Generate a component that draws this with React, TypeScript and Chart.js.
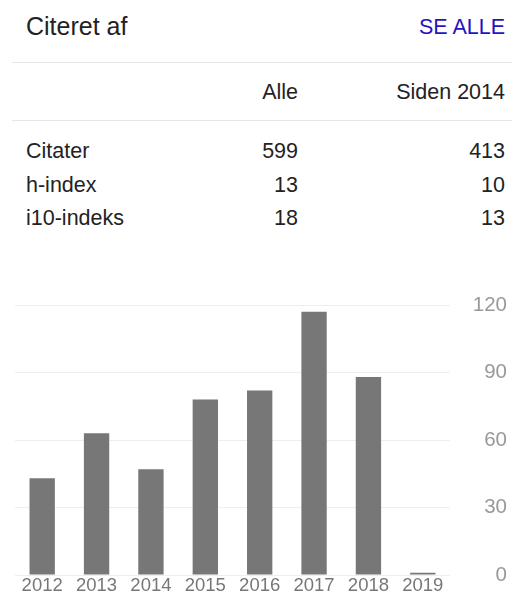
import React, { useEffect, useRef } from "react";
import { Chart, registerables } from "chart.js";

Chart.register(...registerables);

const years = ["2012", "2013", "2014", "2015", "2016", "2017", "2018", "2019"];
const citations = [43, 63, 47, 78, 82, 117, 88, 1];
const yTickValues = [0, 30, 60, 90, 120];
const metricLabels = ["Citater", "h-index", "i10-indeks"];
const allValues = ["599", "13", "18"];
const sinceValues = ["413", "10", "13"];
const headerTitle = "Citeret af";
const headerLink = "SE ALLE";
const colAll = "Alle";
const colSince = "Siden 2014";

const FONT = '"Liberation Sans", Arial, sans-serif';

function Txt(props: { text: string; size: number; baseline: number; left?: number; right?: number; color?: string }) {
  const { text, size, baseline, left, right, color } = props;
  const top = baseline - 0.8465 * size;
  const style: React.CSSProperties = {
    position: "absolute",
    top,
    fontSize: size,
    lineHeight: `${size}px`,
    fontFamily: FONT,
    color: color || "#222",
    whiteSpace: "nowrap",
  };
  if (left !== undefined) style.left = left;
  if (right !== undefined) {
    style.right = 512 - right;
    style.textAlign = "right";
  }
  return <div style={style}>{text}</div>;
}

export default function App() {
  const canvasRef = useRef<HTMLCanvasElement>(null);

  useEffect(() => {
    const ctx = canvasRef.current;
    if (!ctx) return;
    const chart = new Chart(ctx, {
      type: "bar",
      data: {
        labels: years,
        datasets: [
          {
            data: citations,
            backgroundColor: "#777777",
            borderWidth: 0,
            categoryPercentage: 1,
            barPercentage: 0.466,
          },
        ],
      },
      options: {
        responsive: false,
        animation: false,
        devicePixelRatio: 1,
        layout: { padding: { left: 15, top: 15, right: 5, bottom: 0 } },
        plugins: { legend: { display: false }, tooltip: { enabled: false } },
        scales: {
          x: {
            grid: { display: false, drawTicks: false },
            border: { display: false },
            ticks: {
              color: "#777777",
              font: { family: FONT, size: 18.5 },
              padding: 0,
              maxRotation: 0,
              autoSkip: false,
            },
            afterFit: (scale: any) => {
              scale.height = 20;
              scale.paddingLeft = 0;
              scale.paddingRight = 0;
              scale.paddingTop = 0;
              scale.paddingBottom = 0;
            },
          },
          y: {
            position: "right",
            min: 0,
            max: 120,
            afterBuildTicks: (scale: any) => {
              scale.ticks = yTickValues.map((v) => ({ value: v }));
            },
            grid: { color: "#eeeeee", drawTicks: false, lineWidth: 1 },
            border: { display: false },
            ticks: {
              color: "#999999",
              font: { family: FONT, size: 20.5 },
              padding: 18,
              crossAlign: "far",
            },
            afterFit: (scale: any) => {
              scale.width = 57;
              scale.paddingTop = 0;
              scale.paddingBottom = 0;
              scale.paddingLeft = 0;
              scale.paddingRight = 0;
            },
          },
        },
      },
    } as any);
    return () => chart.destroy();
  }, []);

  const rowBaselines = [159.3, 192.7, 226];

  return (
    <div style={{ position: "absolute", left: 0, top: 0, width: 512, height: 595, background: "#fff", overflow: "hidden" }}>
      <Txt text={headerTitle} size={25} baseline={35} left={26} />
      <Txt text={headerLink} size={21.5} baseline={35} right={505} color="#2414c0" />
      <div style={{ position: "absolute", left: 12, top: 62, width: 500, height: 1, background: "#e6e6e6" }} />
      <Txt text={colAll} size={21.5} baseline={100} right={298} />
      <Txt text={colSince} size={21.5} baseline={100} right={505} />
      <div style={{ position: "absolute", left: 12, top: 120, width: 500, height: 1, background: "#e6e6e6" }} />
      {metricLabels.map((m, i) => (
        <React.Fragment key={m}>
          <Txt text={m} size={21.5} baseline={rowBaselines[i]} left={26} />
          <Txt text={allValues[i]} size={21.5} baseline={rowBaselines[i]} right={298} />
          <Txt text={sinceValues[i]} size={21.5} baseline={rowBaselines[i]} right={505} />
        </React.Fragment>
      ))}
      <canvas
        ref={canvasRef}
        width={512}
        height={305}
        style={{ position: "absolute", left: 0, top: 290, width: 512, height: 305 }}
      />
    </div>
  );
}
